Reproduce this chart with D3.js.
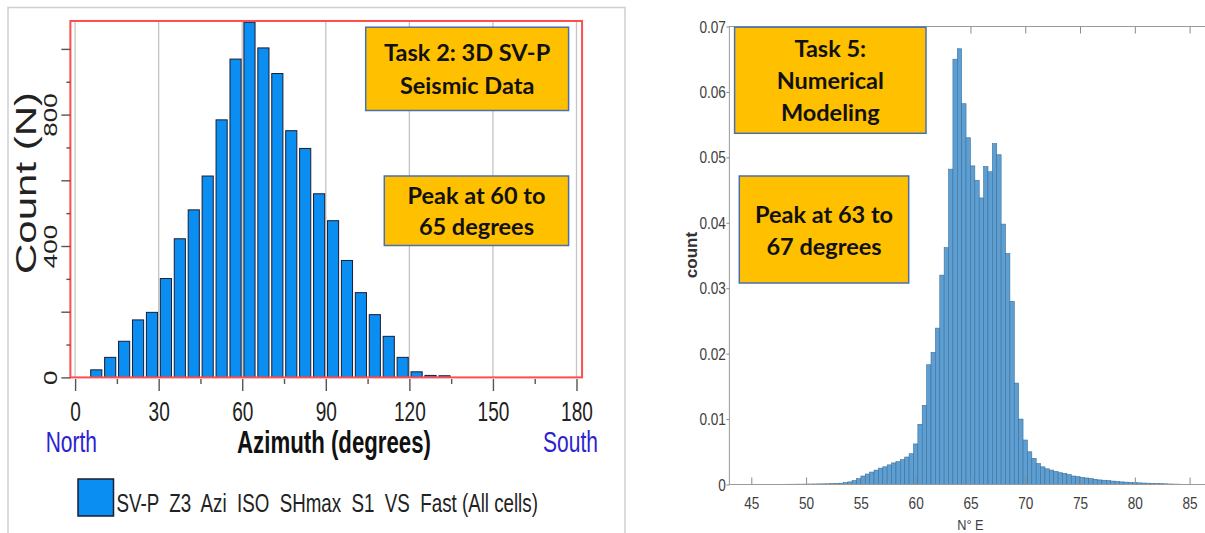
<!DOCTYPE html>
<html>
<head>
<meta charset="utf-8">
<script src="https://cdn.jsdelivr.net/npm/d3@7"></script>
<style>
  body { margin: 0; background: #fff; }
  svg { display: block; }
  text { font-family: "Liberation Sans", Arial, sans-serif; }
  .note text { font-family: Lato, "Open Sans", sans-serif; font-weight: 700; font-size: 23.5px; fill: #111; }
</style>
</head>
<body>
<svg id="chart" width="1205" height="533"></svg>
<script>
// ---- left histogram: SV-P azimuths, 5 degree bins
const azBinStart = [5, 10, 15, 20, 25, 30, 35, 40, 45, 50, 55, 60, 65, 70, 75, 80, 85, 90, 95, 100, 105, 110, 115, 120, 125, 130];
const azBinWidth = 5;
const azCounts = [23, 61, 110, 175, 198, 301, 422, 510, 613, 784, 969, 1081, 1003, 925, 751, 697, 559, 477, 356, 258, 191, 125, 61, 17, 6, 5];
const azTicks = [0, 30, 60, 90, 120, 150, 180];
const azMinorTicks = [15, 45, 75, 105, 135, 165];
const countTicks = [0, 200, 400, 600, 800, 1000];
const countMinorTicks = [100, 300, 500, 700, 900];
const countLabels = [0, 400, 800];

// ---- right histogram: numerical model, 0.4 degree bins (probability)
const modelBinCenters = [47.6, 48.0, 48.4, 48.8, 49.2, 49.6, 50.0, 50.4, 50.8, 51.2,
  51.6, 52.0, 52.4, 52.8, 53.2, 53.6, 54.0, 54.4, 54.8, 55.2,
  55.6, 56.0, 56.4, 56.8, 57.2, 57.6, 58.0, 58.4, 58.8, 59.2,
  59.6, 60.0, 60.4, 60.8, 61.2, 61.6, 62.0, 62.4, 62.8, 63.2,
  63.6, 64.0, 64.4, 64.8, 65.2, 65.6, 66.0, 66.4, 66.8, 67.2,
  67.6, 68.0, 68.4, 68.8, 69.2, 69.6, 70.0, 70.4, 70.8, 71.2,
  71.6, 72.0, 72.4, 72.8, 73.2, 73.6, 74.0, 74.4, 74.8, 75.2,
  75.6, 76.0, 76.4, 76.8, 77.2, 77.6, 78.0, 78.4, 78.8, 79.2,
  79.6, 80.0, 80.4, 80.8, 81.2, 81.6, 82.0, 82.4, 82.8, 83.2,
  83.6, 84.0, 84.4];
const modelBinWidth = 0.4;
const modelProb = [0.00003, 0.00003, 0.00004, 0.00004, 0.00005, 0.00005, 0.00006, 0.00007, 0.00008, 0.00009,
  0.0001, 0.00011, 0.00013, 0.00016, 0.0002, 0.00028, 0.0004, 0.0006, 0.0009, 0.0013,
  0.0016, 0.0019, 0.0022, 0.0025, 0.0027, 0.0030, 0.0033, 0.0035, 0.0038, 0.0042,
  0.0047, 0.0062, 0.0092, 0.0121, 0.0183, 0.0202, 0.0239, 0.0320, 0.0362, 0.0482,
  0.0650, 0.0666, 0.0582, 0.0530, 0.0487, 0.0465, 0.0438, 0.0486, 0.0478, 0.0521,
  0.0504, 0.0398, 0.0353, 0.0280, 0.0155, 0.0100, 0.0068, 0.0050, 0.0040, 0.0032,
  0.0027, 0.0024, 0.0022, 0.0020, 0.0018, 0.0017, 0.0015, 0.0013, 0.0012, 0.0011,
  0.0010, 0.0009, 0.0008, 0.0007, 0.00065, 0.0006, 0.00052, 0.00046, 0.0004, 0.00036,
  0.00032, 0.00028, 0.00025, 0.00022, 0.0002, 0.00017, 0.00015, 0.00013, 0.0001, 0.00008,
  0.00006, 0.00005, 0.00003];
const modelXTicks = [45, 50, 55, 60, 65, 70, 75, 80, 85];
const modelYTicks = [0, 0.01, 0.02, 0.03, 0.04, 0.05, 0.06, 0.07];

const leftNotes = [["Task 2: 3D SV-P", "Seismic Data"], ["Peak at 60 to", "65 degrees"]];
const rightNotes = [["Task 5:", "Numerical", "Modeling"], ["Peak at 63 to", "67 degrees"]];
const legendLabel = "SV-P  Z3  Azi  ISO  SHmax  S1  VS  Fast (All cells)";

const svg = d3.select("#chart");
svg.append("rect").attr("width", 1205).attr("height", 533).attr("fill", "#fff");

// squashed text helper (left panel image is stretched vertically)
function squash(g, x, y, txt, size, sx, opts = {}) {
  return g.append("text")
    .attr("transform", `translate(${x},${y}) scale(${sx},1)`)
    .attr("text-anchor", opts.anchor || "middle")
    .attr("font-size", size)
    .attr("font-weight", opts.weight || "normal")
    .attr("fill", opts.fill || "#222")
    .style("white-space", "pre")
    .text(txt);
}

function note(g, x0, y0, x1, y1, lines, baselines) {
  const n = g.append("g").attr("class", "note");
  n.append("rect")
    .attr("x", x0).attr("y", y0)
    .attr("width", x1 - x0).attr("height", y1 - y0)
    .attr("fill", "#ffc000")
    .attr("stroke", "#4a6fae")
    .attr("stroke-width", 1.5);
  n.selectAll("text")
    .data(lines)
    .join("text")
    .attr("x", (x0 + x1) / 2)
    .attr("y", (d, i) => baselines[i])
    .attr("text-anchor", "middle")
    .text(d => d);
}

// ================= LEFT PANEL =================
const left = svg.append("g");
left.append("rect")
  .attr("x", 8).attr("y", 7.5).attr("width", 617).attr("height", 540)
  .attr("fill", "none").attr("stroke", "#cfcfcf").attr("stroke-width", 1.5);

const xL = d3.scaleLinear().domain([0, 180]).range([75.1, 576.5]);
const yL = d3.scaleLinear().domain([0, 1000]).range([377.4, 48.9]);
const frameLo = -1.7, frameHi = 182, frameTop = 1085;

left.append("g")
  .selectAll("line")
  .data(azTicks)
  .join("line")
    .attr("x1", d => xL(d)).attr("x2", d => xL(d))
    .attr("y1", yL(frameTop)).attr("y2", yL(0))
    .attr("stroke", "#c4c4c4")
    .attr("stroke-width", 1.3);

const barColor = "#0b8ef2";
left.append("g")
  .selectAll("rect")
  .data(azBinStart)
  .join("rect")
    .attr("x", d => xL(d + 0.6))
    .attr("width", xL(azBinWidth * 0.8) - xL(0))
    .attr("y", (d, i) => yL(azCounts[i]))
    .attr("height", (d, i) => yL(0) - yL(azCounts[i]))
    .attr("fill", barColor)
    .attr("stroke", "#1b1d33")
    .attr("stroke-width", 1);

left.append("rect")
  .attr("x", xL(frameLo)).attr("y", yL(frameTop))
  .attr("width", xL(frameHi) - xL(frameLo))
  .attr("height", yL(0) - yL(frameTop))
  .attr("fill", "none")
  .attr("stroke", "#ff4d4d")
  .attr("stroke-width", 2);

// x axis
left.append("g")
  .attr("transform", "translate(0,379)")
  .call(d3.axisBottom(xL).tickValues(azTicks).tickSize(12).tickFormat(d3.format("d")))
  .call(g => g.attr("font-size", null).attr("font-family", null))
  .call(g => g.select(".domain").remove())
  .call(g => g.selectAll("line").attr("stroke", "#555").attr("stroke-width", 1.4))
  .call(g => g.selectAll("text")
    .attr("y", 42).attr("dy", null)
    .attr("font-size", 28).attr("fill", "#222")
    .attr("transform", "scale(0.68,1)"));
left.append("g")
  .attr("transform", "translate(0,379)")
  .call(d3.axisBottom(xL).tickValues(azMinorTicks).tickSize(5).tickFormat(""))
  .call(g => g.select(".domain").remove())
  .call(g => g.selectAll("line").attr("stroke", "#555").attr("stroke-width", 1.4));

// y axis
left.append("g")
  .attr("transform", `translate(${xL(frameLo)},0)`)
  .call(d3.axisLeft(yL).tickValues(countTicks).tickSize(9)
    .tickFormat(d => countLabels.includes(d) ? d : ""))
  .call(g => g.attr("font-size", null).attr("font-family", null))
  .call(g => g.select(".domain").remove())
  .call(g => g.selectAll("line").attr("stroke", "#555").attr("stroke-width", 1.4))
  .call(g => g.selectAll("text")
    .attr("x", 0).attr("dy", null)
    .attr("text-anchor", "middle")
    .attr("font-size", 26).attr("fill", "#222")
    .attr("transform", "translate(-13.4,0) rotate(-90) scale(1,0.7)"));
left.append("g")
  .attr("transform", `translate(${xL(frameLo)},0)`)
  .call(d3.axisLeft(yL).tickValues(countMinorTicks).tickSize(4).tickFormat(""))
  .call(g => g.select(".domain").remove())
  .call(g => g.selectAll("line").attr("stroke", "#555").attr("stroke-width", 1.4));

left.append("text")
  .attr("transform", "translate(36,183) rotate(-90) scale(1,0.7)")
  .attr("text-anchor", "middle")
  .attr("font-size", 42)
  .attr("fill", "#222")
  .text("Count (N)");

squash(left, 71.3, 452, "North", 30, 0.7, { fill: "#2b22d0" });
squash(left, 570.5, 452, "South", 30, 0.7, { fill: "#2b22d0" });
squash(left, 334, 453, "Azimuth (degrees)", 32, 0.695, { weight: "bold", fill: "#111" });

// legend
left.append("rect")
  .attr("x", 78).attr("y", 479).attr("width", 35.5).attr("height", 37)
  .attr("fill", barColor).attr("stroke", "#1b1d33").attr("stroke-width", 1.5);
squash(left, 116.6, 512, legendLabel, 25, 0.75, { anchor: "start" });

note(left, 365.7, 27.2, 568.6, 110.5, leftNotes[0], [61, 93.5]);
note(left, 384.3, 176, 568.6, 245.5, leftNotes[1], [204, 235.3]);

// ================= RIGHT PANEL =================
const right = svg.append("g");
const xR = d3.scaleLinear().domain([45, 85]).range([751.3, 1189.6]);
const yR = d3.scaleLinear().domain([0, 0.07]).range([484.5, 26.5]);

right.append("g")
  .selectAll("rect")
  .data(modelBinCenters)
  .join("rect")
    .attr("x", d => xR(d - modelBinWidth / 2))
    .attr("width", d => xR(d + modelBinWidth / 2) - xR(d - modelBinWidth / 2))
    .attr("y", (d, i) => yR(modelProb[i]))
    .attr("height", (d, i) => yR(0) - yR(modelProb[i]))
    .attr("fill", "#5e9fd3")
    .attr("stroke", "#3d6f98")
    .attr("stroke-width", 0.6);

// axes box
right.append("rect")
  .attr("x", xR(43)).attr("y", yR(0.07))
  .attr("width", xR(87.5) - xR(43))
  .attr("height", yR(0) - yR(0.07))
  .attr("fill", "none")
  .attr("stroke", "#9a9a9a")
  .attr("stroke-width", 1);

right.append("g")
  .attr("transform", `translate(0,${yR(0)})`)
  .call(d3.axisBottom(xR).tickValues(modelXTicks).tickSize(-7))
  .call(g => g.attr("font-size", null).attr("font-family", null))
  .call(g => g.select(".domain").remove())
  .call(g => g.selectAll("line").attr("stroke", "#8a8a8a"))
  .call(g => g.selectAll("text")
    .attr("y", 25).attr("dy", null)
    .attr("font-size", 16).attr("fill", "#404040")
    .attr("transform", "scale(0.85,1)"));

right.append("g")
  .attr("transform", `translate(0,${yR(0.07)})`)
  .call(d3.axisTop(xR).tickValues(modelXTicks).tickSize(-7).tickFormat(""))
  .call(g => g.select(".domain").remove())
  .call(g => g.selectAll("line").attr("stroke", "#8a8a8a"));

right.append("g")
  .attr("transform", `translate(${xR(43)},0)`)
  .call(d3.axisLeft(yR).tickValues(modelYTicks).tickSize(3)
    .tickFormat(d => d === 0 ? "0" : d3.format(".2f")(d)))
  .call(g => g.attr("font-size", null).attr("font-family", null))
  .call(g => g.select(".domain").remove())
  .call(g => g.selectAll("line").attr("stroke", "#8a8a8a"))
  .call(g => g.selectAll("text")
    .attr("x", 0).attr("dy", "0.35em")
    .attr("text-anchor", "end")
    .attr("font-size", 16).attr("fill", "#404040")
    .attr("transform", "translate(-3.5,0) scale(0.85,1)"));

right.append("text")
  .attr("transform", "translate(697,255) rotate(-90)")
  .attr("text-anchor", "middle")
  .attr("font-family", "'DejaVu Sans', sans-serif")
  .attr("font-weight", "bold")
  .attr("font-size", 17)
  .attr("fill", "#333")
  .text("count");

squash(right, xR(65), 530, "N° E", 15, 0.85, { fill: "#404040" });

note(right, 734.6, 27.2, 926, 133.3, rightNotes[0], [57, 89, 121]);
note(right, 739.3, 176, 908.7, 283, rightNotes[1], [222.7, 254.5]);
</script>
</body>
</html>
